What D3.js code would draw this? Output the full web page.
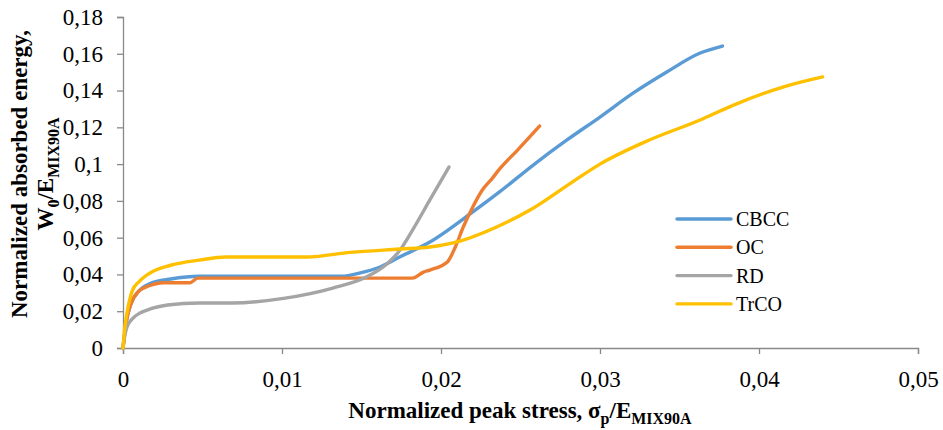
<!DOCTYPE html>
<html>
<head>
<meta charset="utf-8">
<script src="https://cdn.jsdelivr.net/npm/d3@7"></script>
<style>
  body { margin: 0; background: #fff; }
  svg text { font-family: "Liberation Serif", "Times New Roman", serif; }
</style>
</head>
<body>
<div id="chart"></div>
<script>
// values
var seriesNames = ['CBCC', 'OC', 'RD', 'TrCO'];
var seriesColors = ['#5B9BD5', '#ED7D31', '#A5A5A5', '#FFC000'];

var cbccX = [0, 0.0002, 0.0005, 0.001, 0.0017, 0.003, 0.0048, 0.008, 0.0137, 0.015, 0.016, 0.0174, 0.0193, 0.022, 0.0237, 0.0258, 0.0279, 0.030, 0.0321, 0.0342, 0.0363, 0.0377];
var cbccY = [0, 0.014, 0.024, 0.031, 0.035, 0.0375, 0.039, 0.039, 0.039, 0.041, 0.0435, 0.0495, 0.0576, 0.074, 0.085, 0.0995, 0.113, 0.1256, 0.1387, 0.1501, 0.1604, 0.1642];

var ocX = [0, 0.0002, 0.0005, 0.001, 0.0017, 0.0025, 0.0042, 0.0047, 0.0055, 0.0182, 0.0189, 0.0193, 0.0204, 0.0209, 0.0214, 0.0220, 0.0226, 0.0232, 0.0237, 0.0248, 0.0262];
var ocY = [0, 0.014, 0.024, 0.031, 0.034, 0.0355, 0.0355, 0.038, 0.038, 0.038, 0.0413, 0.0424, 0.0468, 0.0549, 0.0658, 0.0767, 0.0859, 0.092, 0.0975, 0.1075, 0.1207];

var rdX = [0, 0.0001, 0.00025, 0.0006, 0.00107, 0.0018, 0.0028, 0.0048, 0.0069, 0.0101, 0.0132, 0.0153, 0.0165, 0.0174, 0.0182, 0.0193, 0.0205];
var rdY = [0, 0.006, 0.0114, 0.016, 0.019, 0.0215, 0.0234, 0.0245, 0.0245, 0.027, 0.0326, 0.0386, 0.045, 0.053, 0.064, 0.0805, 0.0984];

var trX = [0, 0.0001, 0.00025, 0.0006, 0.001, 0.0017, 0.003, 0.0048, 0.0065, 0.0116, 0.0143, 0.0174, 0.0193, 0.0214, 0.0235, 0.0256, 0.0283, 0.030, 0.0331, 0.0363, 0.0384, 0.0415, 0.0440];
var trY = [0, 0.01, 0.019, 0.0315, 0.036, 0.0408, 0.045, 0.0478, 0.0495, 0.0495, 0.052, 0.0538, 0.0549, 0.0587, 0.0658, 0.075, 0.0905, 0.1, 0.1131, 0.124, 0.1321, 0.1419, 0.1474];

var xTicks = [0, 0.01, 0.02, 0.03, 0.04, 0.05];
var yTicks = [0, 0.02, 0.04, 0.06, 0.08, 0.1, 0.12, 0.14, 0.16, 0.18];

var seriesX = [cbccX, ocX, rdX, trX];
var seriesY = [cbccY, ocY, rdY, trY];

var totalWidth = 943, totalHeight = 430;
var margin = { top: 17, right: 25, bottom: 82, left: 123 };
var width = totalWidth - margin.left - margin.right;
var height = totalHeight - margin.top - margin.bottom;
var axisColor = '#898989';
var serif = '"Liberation Serif", "Times New Roman", serif';

// comma decimal, like the original
var fmt = function(v) { return String(+v.toFixed(3)).replace('.', ','); };

var x = d3.scaleLinear().domain([0, 0.05]).range([0, width]);
var y = d3.scaleLinear().domain([0, 0.18]).range([height, 0]);

var svg = d3.select('#chart').append('svg')
    .attr('width', totalWidth)
    .attr('height', totalHeight)
    .style('font-family', serif)
  .append('g')
    .attr('transform', 'translate(' + margin.left + ',' + margin.top + ')');

var xAxis = d3.axisBottom(x).tickValues(xTicks).tickFormat(fmt).tickSize(6);
var yAxis = d3.axisLeft(y).tickValues(yTicks).tickFormat(fmt).tickSize(6).tickPadding(14);

var gx = svg.append('g')
    .attr('transform', 'translate(0,' + height + ')')
    .call(xAxis);
var gy = svg.append('g').call(yAxis);

[gx, gy].forEach(function(g) {
  g.attr('font-family', serif);
  g.selectAll('path, line').attr('stroke', axisColor).attr('stroke-width', 1.3);
  g.selectAll('text')
    .attr('fill', '#000')
    .attr('font-family', serif)
    .style('font-size', '23px');
});
gx.selectAll('text').attr('y', 39).attr('dy', 0);

var line = d3.line()
    .x(function(d) { return x(d[0]); })
    .y(function(d) { return y(d[1]); })
    .curve(d3.curveMonotoneX);

seriesNames.forEach(function(name, i) {
  var pts = seriesX[i].map(function(v, j) { return [v, seriesY[i][j]]; });
  svg.append('path')
      .datum(pts)
      .attr('fill', 'none')
      .attr('stroke', seriesColors[i])
      .attr('stroke-width', 3.4)
      .attr('stroke-linejoin', 'round')
      .attr('stroke-linecap', 'round')
      .attr('d', line);
});

// legend
var legend = svg.append('g').attr('transform', 'translate(' + (677 - margin.left) + ',' + (219 - margin.top) + ')');
seriesNames.forEach(function(name, i) {
  var row = legend.append('g').attr('transform', 'translate(0,' + (i * 28.3) + ')');
  row.append('line')
      .attr('x1', 0).attr('x2', 54)
      .attr('stroke', seriesColors[i])
      .attr('stroke-width', 3.4)
      .attr('stroke-linecap', 'round');
  row.append('text')
      .attr('x', 59)
      .attr('y', 7)
      .style('font-size', '20px')
      .text(name);
});

// x axis title
var xt = svg.append('text')
    .attr('x', 520 - margin.left)
    .attr('y', height + 70)
    .attr('text-anchor', 'middle')
    .style('font-size', '23px')
    .style('font-weight', 'bold');
xt.append('tspan').text('Normalized peak stress, \u03c3');
xt.append('tspan').attr('dy', 6).style('font-size', '16px').text('p');
xt.append('tspan').attr('dy', -6).text('/E');
xt.append('tspan').attr('dy', 6).style('font-size', '16px').text('MIX90A');

// y axis title, two lines
var yt = svg.append('g')
    .attr('transform', 'translate(' + (27 - margin.left) + ',' + (174 - margin.top) + ') rotate(-90)');
yt.append('text')
    .attr('text-anchor', 'middle')
    .attr('y', 0)
    .style('font-size', '23px')
    .style('font-weight', 'bold')
    .text('Normalized absorbed energy,');
var yt2 = yt.append('text')
    .attr('text-anchor', 'middle')
    .attr('y', 26)
    .style('font-size', '23px')
    .style('font-weight', 'bold');
yt2.append('tspan').text('W');
yt2.append('tspan').attr('dy', 6).style('font-size', '16px').text('0');
yt2.append('tspan').attr('dy', -6).text('/E');
yt2.append('tspan').attr('dy', 6).style('font-size', '16px').text('MIX90A');
</script>
</body>
</html>
